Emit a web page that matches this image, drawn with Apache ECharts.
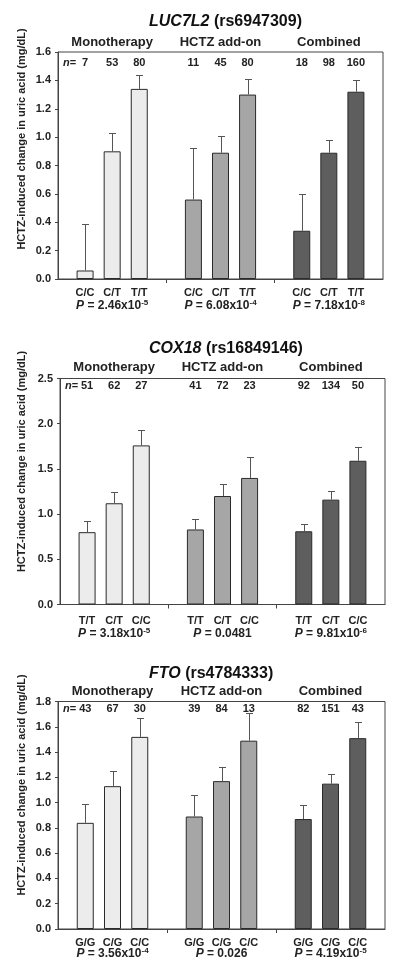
<!DOCTYPE html>
<html><head><meta charset="utf-8">
<script src="https://cdn.jsdelivr.net/npm/echarts@6/dist/echarts.min.js"></script>
<style>html,body{margin:0;padding:0;background:#fff}#c{width:400px;height:978px}</style>
</head><body><div id="c"></div>
<script>
const groupNames = ['Monotherapy', 'HCTZ add-on', 'Combined'];
const yTitle = 'HCTZ-induced change in uric acid (mg/dL)';

// Panel 1 : LUC7L2
const p1Gene = 'LUC7L2', p1Snp = '(rs6947309)';
const p1Genotypes = ['C/C', 'C/T', 'T/T'];
const p1Mono = [0.06, 0.90, 1.34], p1MonoSE = [0.33, 0.13, 0.10];
const p1Hctz = [0.56, 0.89, 1.30], p1HctzSE = [0.36, 0.12, 0.11];
const p1Comb = [0.34, 0.89, 1.32], p1CombSE = [0.26, 0.09, 0.08];
const p1N = [[7, 53, 80], [11, 45, 80], [18, 98, 160]];
const p1P = ['2.46x10', '6.08x10', '7.18x10'], p1PExp = ['-5', '-4', '-8'];
const p1YMax = 1.6, p1YStep = 0.2;

// Panel 2 : COX18
const p2Gene = 'COX18', p2Snp = '(rs16849146)';
const p2Genotypes = ['T/T', 'C/T', 'C/C'];
const p2Mono = [0.80, 1.12, 1.76], p2MonoSE = [0.12, 0.13, 0.17];
const p2Hctz = [0.83, 1.20, 1.40], p2HctzSE = [0.12, 0.13, 0.23];
const p2Comb = [0.81, 1.16, 1.59], p2CombSE = [0.08, 0.10, 0.15];
const p2N = [[51, 62, 27], [41, 72, 23], [92, 134, 50]];
const p2P = ['3.18x10', '0.0481', '9.81x10'], p2PExp = ['-5', '', '-6'];
const p2YMax = 2.5, p2YStep = 0.5;

// Panel 3 : FTO
const p3Gene = 'FTO', p3Snp = '(rs4784333)';
const p3Genotypes = ['G/G', 'C/G', 'C/C'];
const p3Mono = [0.84, 1.13, 1.52], p3MonoSE = [0.15, 0.12, 0.15];
const p3Hctz = [0.89, 1.17, 1.49], p3HctzSE = [0.17, 0.11, 0.22];
const p3Comb = [0.87, 1.15, 1.51], p3CombSE = [0.11, 0.08, 0.13];
const p3N = [[43, 67, 30], [39, 84, 13], [82, 151, 43]];
const p3P = ['3.56x10', '0.026', '4.19x10'], p3PExp = ['-4', '', '-5'];
const p3YMax = 1.8, p3YStep = 0.2;

const panels = [
  {gene: p1Gene, snp: p1Snp, gt: p1Genotypes, means: [p1Mono, p1Hctz, p1Comb], se: [p1MonoSE, p1HctzSE, p1CombSE], n: p1N, p: p1P, pe: p1PExp, ymax: p1YMax, step: p1YStep},
  {gene: p2Gene, snp: p2Snp, gt: p2Genotypes, means: [p2Mono, p2Hctz, p2Comb], se: [p2MonoSE, p2HctzSE, p2CombSE], n: p2N, p: p2P, pe: p2PExp, ymax: p2YMax, step: p2YStep},
  {gene: p3Gene, snp: p3Snp, gt: p3Genotypes, means: [p3Mono, p3Hctz, p3Comb], se: [p3MonoSE, p3HctzSE, p3CombSE], n: p3N, p: p3P, pe: p3PExp, ymax: p3YMax, step: p3YStep}
];

// layout
const FONT = '"Liberation Sans", Arial, sans-serif';
const grids = [
  {left: 58, right: 17, top: 52, height: 227},
  {left: 60, right: 15, top: 378.5, height: 226},
  {left: 58, right: 15, top: 701.5, height: 227.5}
];
const lay = [
  {titleY: 21.7, groupOff: -10, nOff: 10.5, gtMargin: 8.5, pOff: 26.5, yTitleY: 139},
  {titleY: 349, groupOff: -10.8, nOff: 7, gtMargin: 10.5, pOff: 29.5, yTitleY: 461.5},
  {titleY: 674, groupOff: -10.5, nOff: 7.5, gtMargin: 8, pOff: 25, yTitleY: 785}
];
const fills = ['#ececec', '#a6a6a6', '#5e5e5e'];
const EDGE = '#2a2a2a';

const option = {
  backgroundColor: '#fff',
  animation: false,
  grid: grids.map(g => Object.assign({show: true, borderColor: '#444', borderWidth: 1, backgroundColor: 'transparent'}, g)),
  xAxis: [], yAxis: [], series: [], graphic: []
};

panels.forEach((P, pi) => {
  const L = lay[pi];
  const labels = [''];
  for (let g = 0; g < 3; g++) { labels.push(...P.gt); labels.push(''); }
  option.xAxis.push({
    type: 'category', gridIndex: pi, boundaryGap: false,
    data: labels.map((l, i) => 'k' + i),
    axisLine: {show: true, lineStyle: {color: '#444', width: 1}},
    axisTick: {show: true, length: 4, inside: false, interval: (i) => i === 4 || i === 8, lineStyle: {color: '#444'}},
    axisLabel: {show: true, interval: 0, margin: L.gtMargin, formatter: (v, i) => labels[i],
      fontFamily: FONT, fontWeight: 'bold', fontSize: 11, color: '#222'},
    splitLine: {show: false}
  });
  option.yAxis.push({
    type: 'value', gridIndex: pi, min: 0, max: P.ymax, interval: P.step,
    axisLine: {show: true, lineStyle: {color: '#444', width: 1}},
    axisTick: {show: true, length: 3, lineStyle: {color: '#444'}},
    axisLabel: {margin: 7, fontFamily: FONT, fontWeight: 'bold', fontSize: 11, color: '#222',
      formatter: v => v.toFixed(1)},
    splitLine: {show: false}
  });
  for (let g = 0; g < 3; g++) {
    option.series.push({
      type: 'bar', xAxisIndex: pi, yAxisIndex: pi, barWidth: 17, barGap: '-100%',
      itemStyle: {color: fills[g], borderColor: EDGE, borderWidth: 1},
      data: P.means[g].map((v, k) => [1 + 4 * g + k, v]), z: 2
    });
  }
  const errData = [];
  for (let g = 0; g < 3; g++) for (let k = 0; k < 3; k++) errData.push([1 + 4 * g + k, P.means[g][k], P.se[g][k]]);
  option.series.push({
    type: 'custom', xAxisIndex: pi, yAxisIndex: pi, z: 3, clip: false,
    data: errData,
    renderItem: (params, api) => {
      const x = api.value(0), m = api.value(1), e = api.value(2);
      const a = api.coord([x, m]), b = api.coord([x, m + e]);
      const cx = Math.round(a[0]) + 0.5, y0 = a[1], y1 = Math.round(b[1]) + 0.5;
      return {type: 'group', children: [
        {type: 'line', shape: {x1: cx, y1: y0, x2: cx, y2: y1}, style: {stroke: '#555', lineWidth: 1}},
        {type: 'line', shape: {x1: cx - 3.5, y1: y1, x2: cx + 3.5, y2: y1}, style: {stroke: '#555', lineWidth: 1}}
      ]};
    }
  });
  option.series.push({
    type: 'custom', xAxisIndex: pi, yAxisIndex: pi, z: 4, clip: false, silent: true,
    data: [0, 1, 2].map(g => [2 + 4 * g, g]),
    renderItem: (params, api) => {
      const g = api.value(1), cIdx = api.value(0);
      const top = api.coord([cIdx, P.ymax]), bot = api.coord([cIdx, 0]);
      const kids = [];
      kids.push({type: 'text', x: top[0], y: top[1] + L.groupOff, style: {
        text: groupNames[g], align: 'center', verticalAlign: 'middle',
        fontFamily: FONT, fontWeight: 'bold', fontSize: 13, fill: '#222'}});
      for (let k = 0; k < 3; k++) {
        const q = api.coord([1 + 4 * g + k, P.ymax]);
        kids.push({type: 'text', x: q[0], y: q[1] + L.nOff, style: {
          text: String(P.n[g][k]), align: 'center', verticalAlign: 'middle',
          fontFamily: FONT, fontWeight: 'bold', fontSize: 11, fill: '#222'}});
      }
      if (g === 0) {
        kids.push({type: 'text', x: grids[pi].left + 5, y: top[1] + L.nOff, style: {
          text: '{i|n}=', align: 'left', verticalAlign: 'middle',
          fontFamily: FONT, fontWeight: 'bold', fontSize: 11, fill: '#222',
          rich: {i: {fontFamily: FONT, fontWeight: 'bold', fontStyle: 'italic', fontSize: 11, fill: '#222'}}}});
      }
      const ptxt = '{i|P} = ' + P.p[g] + (P.pe[g] ? '{s|' + P.pe[g] + '}' : '');
      kids.push({type: 'text', x: bot[0], y: bot[1] + L.pOff, style: {
        text: ptxt, align: 'center', verticalAlign: 'middle',
        fontFamily: FONT, fontWeight: 'bold', fontSize: 12, fill: '#222', lineHeight: 14,
        rich: {
          i: {fontFamily: FONT, fontWeight: 'bold', fontStyle: 'italic', fontSize: 12, fill: '#222', lineHeight: 14},
          s: {fontFamily: FONT, fontWeight: 'bold', fontSize: 8, fill: '#222', verticalAlign: 'top', lineHeight: 8}
        }}});
      return {type: 'group', children: kids};
    }
  });
  option.graphic.push({
    type: 'text', x: 149, y: L.titleY, silent: true,
    style: {text: '{i|' + P.gene + '} ' + P.snp, align: 'left', verticalAlign: 'middle',
      fontFamily: FONT, fontWeight: 'bold', fontSize: 16, fill: '#111',
      rich: {i: {fontFamily: FONT, fontWeight: 'bold', fontStyle: 'italic', fontSize: 16, fill: '#111'}}}
  });
  option.graphic.push({
    type: 'text', x: 21.5, y: L.yTitleY, rotation: Math.PI / 2, silent: true,
    style: {text: yTitle, align: 'center', verticalAlign: 'middle',
      fontFamily: FONT, fontWeight: 'bold', fontSize: 11, fill: '#222'}
  });
});

const chart = echarts.init(document.getElementById('c'), null, {renderer: 'canvas'});
chart.setOption(option);
</script></body></html>
